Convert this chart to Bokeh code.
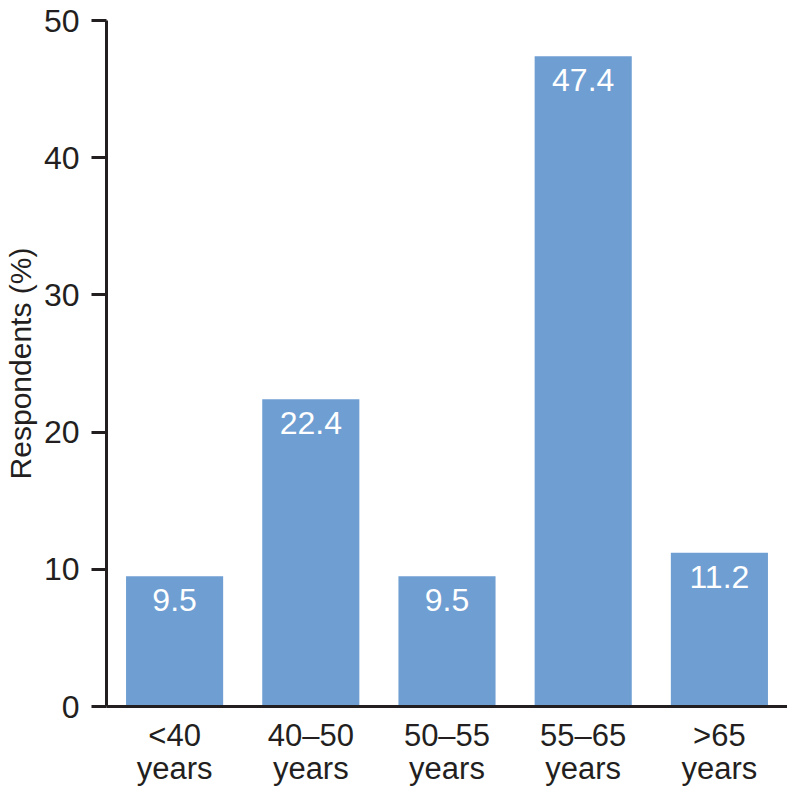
from bokeh.plotting import figure
from bokeh.models import ColumnDataSource, Range1d, FixedTicker
from bokeh.embed import file_html
from bokeh.resources import INLINE
from bokeh.core.properties import value

categories = ["<40\nyears", "40–50\nyears", "50–55\nyears", "55–65\nyears", ">65\nyears"]
values = [9.5, 22.4, 9.5, 47.4, 11.2]
labels = ["9.5", "22.4", "9.5", "47.4", "11.2"]
y_ticks = [0, 10, 20, 30, 40, 50]

src = ColumnDataSource(dict(cat=categories, val=values, lab=labels))

FONT = "Liberation Sans"
INK = "#231f20"
FS = "32px"

p = figure(x_range=categories, y_range=Range1d(0, 50), width=787, height=788,
           output_backend="svg", toolbar_location=None,
           min_border_left=104, min_border_right=0, min_border_top=20, min_border_bottom=80)
p.outline_line_color = None
p.grid.grid_line_color = None
p.background_fill_color = "white"

p.vbar(x="cat", top="val", width=0.713, source=src, fill_color="#6e9ed2", line_color=None)
p.text(x="cat", y="val", text="lab", source=src, text_color="white",
       text_font=value(FONT), text_font_size=FS, text_align="center",
       text_baseline="top", y_offset=13)

yax = p.yaxis[0]
yax.ticker = FixedTicker(ticks=y_ticks)
yax.minor_tick_line_color = None
yax.major_tick_out = 15
yax.major_tick_in = 0
yax.major_tick_line_width = 3
yax.major_tick_line_color = INK
yax.axis_line_width = 3
yax.axis_line_color = INK
yax.major_label_text_font = FONT
yax.major_label_text_font_size = FS
yax.major_label_text_color = INK
yax.major_label_standoff = 12
yax.axis_label = "Respondents (%)"
yax.axis_label_text_font = FONT
yax.axis_label_text_font_size = "30px"
yax.axis_label_text_font_style = "normal"
yax.axis_label_text_color = INK
yax.axis_label_standoff = 4

xax = p.xaxis[0]
xax.major_tick_line_color = None
xax.minor_tick_line_color = None
xax.axis_line_width = 3
xax.axis_line_color = INK
xax.major_label_text_font = FONT
xax.major_label_text_font_size = "31px"
xax.major_label_text_line_height = 0.95
xax.major_label_text_color = INK
xax.major_label_standoff = 5

open("out.html", "w").write(file_html(p, INLINE))
